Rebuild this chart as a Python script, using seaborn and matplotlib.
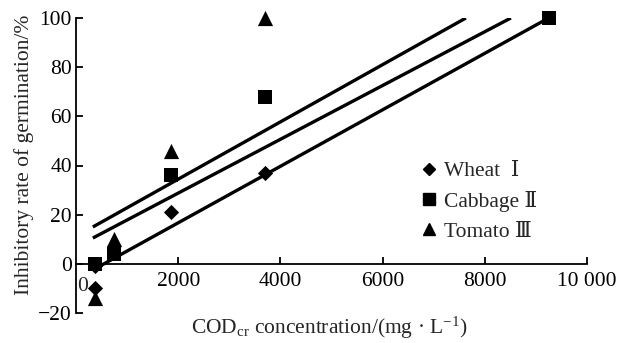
import matplotlib
matplotlib.use("Agg")
import matplotlib.pyplot as plt
import seaborn as sns
import pandas as pd
from matplotlib.lines import Line2D

# ---- data ----
conc_wheat = [370, 370, 1850, 3700]
rate_wheat = [-10, -1, 21, 37]
conc_cabbage = [370, 740, 1850, 3700, 9250]
rate_cabbage = [0, 4, 36, 68, 100]
conc_tomato = [370, 740, 1850, 3700]
rate_tomato = [-14, 10, 46, 100]

fit_x_wheat = [330, 9250]
fit_y_wheat = [-2.5, 100]
fit_x_cabbage = [330, 8510]
fit_y_cabbage = [10.5, 100]
fit_x_tomato = [330, 7630]
fit_y_tomato = [15, 100]

series_labels = ["Wheat  Ⅰ", "Cabbage Ⅱ", "Tomato Ⅲ"]
x_ticks = [2000, 4000, 6000, 8000, 10000]
x_ticklabels = ["2000", "4000", "6000", "8000", "10 000"]
y_ticks = [-20, 0, 20, 40, 60, 80, 100]
y_ticklabels = ["−20", "0", "20", "40", "60", "80", "100"]

FS = 15.5

sns.set_theme(style="ticks")
plt.rcParams["font.family"] = ["Liberation Serif", "DejaVu Serif"]
plt.rcParams["mathtext.fontset"] = "custom"
plt.rcParams["mathtext.rm"] = "Liberation Serif"
plt.rcParams["mathtext.it"] = "Liberation Serif:italic"

fig = plt.figure(figsize=(6.3, 3.43), dpi=100)
ax = fig.add_axes([76 / 630, 30 / 343, (587 - 76) / 630, (313 - 18) / 343])

pts = pd.DataFrame({
    "conc": conc_wheat + conc_cabbage + conc_tomato,
    "rate": rate_wheat + rate_cabbage + rate_tomato,
    "crop": [series_labels[0]] * len(conc_wheat)
            + [series_labels[1]] * len(conc_cabbage)
            + [series_labels[2]] * len(conc_tomato),
})
fits = pd.DataFrame({
    "conc": fit_x_wheat + fit_x_cabbage + fit_x_tomato,
    "rate": fit_y_wheat + fit_y_cabbage + fit_y_tomato,
    "crop": [series_labels[0]] * 2 + [series_labels[1]] * 2 + [series_labels[2]] * 2,
})

sns.lineplot(data=fits, x="conc", y="rate", units="crop", estimator=None,
             color="black", lw=2.4, ax=ax, legend=False, solid_capstyle="butt")

markers = {series_labels[0]: "D", series_labels[1]: "s", series_labels[2]: "^"}
sizes = {series_labels[0]: 60, series_labels[1]: 110, series_labels[2]: 120}
for lab in series_labels:
    sub = pts[pts["crop"] == lab]
    sns.scatterplot(data=sub, x="conc", y="rate", marker=markers[lab],
                    s=sizes[lab], color="black", edgecolor="black",
                    linewidth=0, ax=ax, legend=False, clip_on=False, zorder=5)

ax.set_xlim(0, 10000)
ax.set_ylim(-20, 100)
ax.spines["top"].set_visible(False)
ax.spines["right"].set_visible(False)
ax.spines["bottom"].set_position(("data", 0))
ax.spines["left"].set_linewidth(1.3)
ax.spines["bottom"].set_linewidth(1.3)
ax.spines["left"].set_color("black")
ax.spines["bottom"].set_color("black")

ax.set_xticks(x_ticks)
ax.set_xticklabels(x_ticklabels)
ax.set_yticks(y_ticks)
ax.set_yticklabels(y_ticklabels)
ax.tick_params(axis="both", direction="in", length=5, width=1.3, colors="black",
               labelsize=FS)
ax.tick_params(axis="x", pad=6)
ax.tick_params(axis="y", pad=3)
ax.text(120, -5.5, "0", fontsize=FS, ha="center", va="top")

ax.set_xlabel("")
ax.set_ylabel("")
fig.text(329 / 630, 1 - 328 / 343,
         "COD$_\\mathrm{cr}$ concentration/(mg · L$^{-1}$)",
         ha="center", va="center", fontsize=FS)
fig.text(24 / 630, 1 - 155 / 343, "Inhibitory rate of germination/%",
         rotation=90, ha="center", va="center", fontsize=FS)

handles = [Line2D([], [], ls="none", marker=markers[l], color="black",
                  markersize={"D": 6.5, "s": 8, "^": 8.5}[markers[l]]) for l in series_labels]
fig.legend(handles, series_labels, loc="upper left",
           bbox_to_anchor=(421 / 630, 1 - 161 / 343), frameon=False,
           fontsize=FS, handlelength=0.7, handletextpad=0.35,
           labelspacing=0.45, borderpad=0, borderaxespad=0)

fig.savefig("out.png", dpi=100)
